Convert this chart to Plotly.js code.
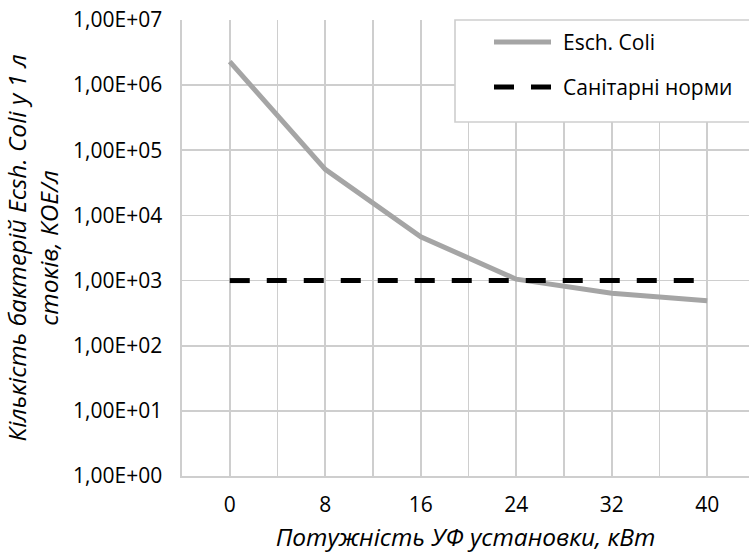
<!DOCTYPE html>
<html>
<head>
<meta charset="utf-8">
<script src="https://cdn.plot.ly/plotly-3.0.1.min.js"></script>
<style>html,body{margin:0;padding:0;background:#fff;}#chart{width:749px;height:555px;}</style>
</head>
<body>
<div id="chart"></div>
<script>
// Data
const power = [0, 8, 16, 24, 32, 40];
const eschColi = [2.3e6, 5.1e4, 4.7e3, 1.05e3, 6.4e2, 4.9e2];
const sanitaryNorm = [1e3, 1e3, 1e3, 1e3, 1e3, 1e3];
const seriesNames = ['Esch. Coli', 'Санітарні норми'];
const xTickVals = [0, 4, 8, 12, 16, 20, 24, 28, 32, 36, 40];
const xTickText = ['0', '', '8', '', '16', '', '24', '', '32', '', '40'];
const yTickVals = [1, 10, 100, 1000, 10000, 100000, 1000000, 10000000];
const yTickText = ['1,00E+00', '1,00E+01', '1,00E+02', '1,00E+03', '1,00E+04', '1,00E+05', '1,00E+06', '1,00E+07'];
const xTitle = 'Потужність УФ установки, кВт';
const yTitle = 'Кількість бактерій Ecsh. Coli у 1 л<br>стоків, КОЕ/л';

const FONT = '"Open Sans", "Noto Sans", sans-serif';
const GRID = '#cecece';
const TICK_SIZE = 21;
const TITLE_SIZE = 24.5;

const traces = [
  {
    x: power, y: eschColi, name: seriesNames[0], type: 'scatter', mode: 'lines',
    line: {color: '#a5a5a5', width: 5}
  },
  {
    x: power, y: sanitaryNorm, name: seriesNames[1], type: 'scatter', mode: 'lines',
    line: {color: '#000000', width: 5, dash: '20px,17px'}
  }
];

// Custom legend (box, symbol lines, labels) in paper coordinates
const W = 749, H = 555, M = {l: 182, r: 0, t: 20, b: 79};
const pw = W - M.l - M.r, ph = H - M.t - M.b;
const px = v => (v - M.l) / pw;
const py = v => (H - M.b - v) / ph;
const shapes = [
  {type: 'rect', xref: 'paper', yref: 'paper', x0: px(455), x1: px(770), y0: py(122), y1: 1,
   line: {color: GRID, width: 1.6}, fillcolor: '#ffffff', layer: 'above'}
];
const annotations = [];
const legendRows = [42, 87];
traces.forEach((t, i) => {
  shapes.push({type: 'line', xref: 'paper', yref: 'paper', x0: px(494), x1: px(551),
    y0: py(legendRows[i]), y1: py(legendRows[i]),
    line: {color: t.line.color, width: t.line.width, dash: t.line.dash || 'solid'}, layer: 'above'});
  annotations.push({xref: 'paper', yref: 'paper', x: px(561), y: py(legendRows[i]),
    xanchor: 'left', yanchor: 'middle', showarrow: false, text: t.name,
    font: {family: FONT, size: TICK_SIZE, color: '#000'}});
});

const layout = {
  width: W, height: H,
  margin: M,
  paper_bgcolor: '#ffffff', plot_bgcolor: '#ffffff',
  font: {family: FONT, size: TICK_SIZE, color: '#000'},
  showlegend: false,
  shapes: shapes,
  annotations: annotations,
  xaxis: {
    type: 'linear', range: [-4, 43.5],
    tickmode: 'array', tickvals: xTickVals, ticktext: xTickText,
    showgrid: true, gridcolor: GRID, gridwidth: 1.6,
    showline: true, linecolor: GRID, linewidth: 1.6,
    zeroline: false, ticks: '', ticklabelstandoff: 9,
    tickfont: {family: FONT, size: TICK_SIZE, color: '#000'},
    title: {text: xTitle, font: {family: FONT, size: TITLE_SIZE, color: '#000', style: 'italic'}, standoff: 12}
  },
  yaxis: {
    type: 'log', range: [0, 7],
    tickmode: 'array', tickvals: yTickVals, ticktext: yTickText,
    showgrid: true, gridcolor: GRID, gridwidth: 1.6,
    showline: true, linecolor: GRID, linewidth: 1.6,
    zeroline: false, ticks: '', ticklabelstandoff: 14,
    tickfont: {family: FONT, size: TICK_SIZE, color: '#000'},
    title: {text: yTitle, font: {family: FONT, size: TITLE_SIZE, color: '#000', style: 'italic'}, standoff: 10}
  }
};

Plotly.newPlot('chart', traces, layout, {staticPlot: true, displayModeBar: false});
</script>
</body>
</html>
